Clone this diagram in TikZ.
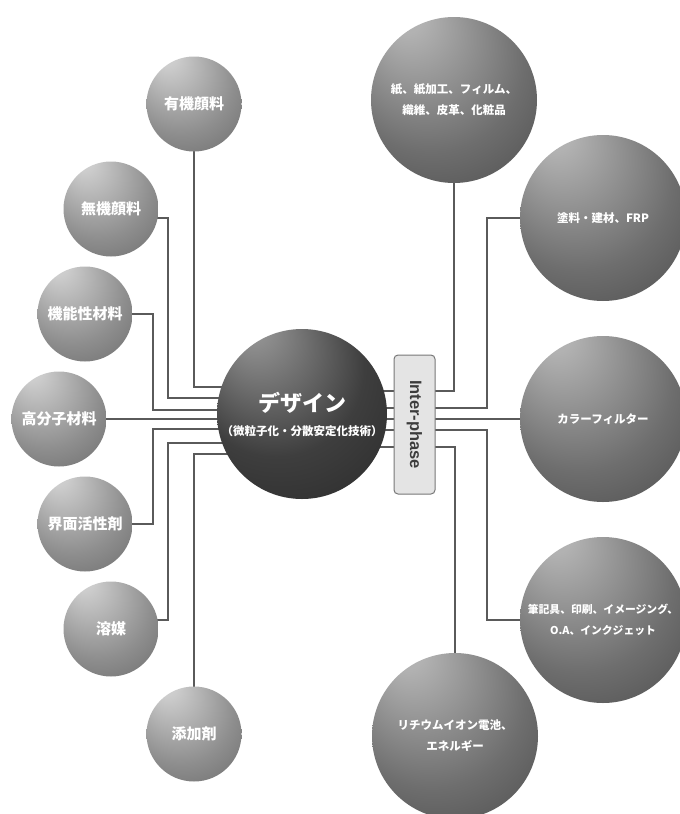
\documentclass[tikz,border=0pt]{standalone}
\usepackage{fontspec}
\newfontfamily\jp{Noto Sans CJK JP}
\newfontfamily\lsans{Liberation Sans}
\usetikzlibrary{calc}
\definecolor{lhi}{RGB}{205,205,205}
\definecolor{lbase}{RGB}{142,142,142}
\definecolor{ldark}{RGB}{100,100,100}
\definecolor{ledge}{RGB}{88,88,88}
\definecolor{rhi}{RGB}{178,178,178}
\definecolor{rbase}{RGB}{110,110,110}
\definecolor{rdark}{RGB}{70,70,70}
\definecolor{redge}{RGB}{60,60,60}
\definecolor{chi}{RGB}{145,145,145}
\definecolor{cbase}{RGB}{62,62,62}
\definecolor{cdark}{RGB}{38,38,38}
\definecolor{cedge}{RGB}{30,30,30}
\definecolor{linec}{RGB}{90,90,90}
\definecolor{boxfill}{RGB}{228,228,228}
\definecolor{boxline}{RGB}{120,120,120}
\definecolor{iptext}{RGB}{60,60,60}
\pgfdeclareradialshading{lshade}{\pgfpoint{-16bp}{28bp}}{color(0bp)=(lhi); color(5bp)=(lhi); color(28bp)=(lbase); color(46bp)=(ldark); color(50bp)=(ledge)}
\pgfdeclareradialshading{rshade}{\pgfpoint{-16bp}{28bp}}{color(0bp)=(rhi); color(5bp)=(rhi); color(28bp)=(rbase); color(46bp)=(rdark); color(50bp)=(redge)}
\pgfdeclareradialshading{cshade}{\pgfpoint{-16bp}{28bp}}{color(0bp)=(chi); color(4bp)=(chi); color(26bp)=(cbase); color(46bp)=(cdark); color(50bp)=(cedge)}
\pgfdeclarelayer{bg}
\pgfsetlayers{bg,main}
\begin{document}
\begin{tikzpicture}[x=1pt,y=-1pt,
  ball/.style={circle, inner sep=0pt, text=white, align=center},
  lball/.style={ball, minimum size=95pt, shading=lshade, font=\jp\bfseries\fontsize{15}{18}\selectfont},
  rball/.style={ball, minimum size=166pt, shading=rshade, font=\jp\bfseries\fontsize{11.5}{21}\selectfont},
  cball/.style={ball, minimum size=170pt, shading=cshade, font=\jp\bfseries\fontsize{22}{27}\selectfont},
  conn/.style={draw=linec, line width=1.2pt},
  ipbox/.style={draw=boxline, line width=1pt, fill=boxfill, rounded corners=4pt, minimum width=41pt, minimum height=139pt, inner sep=0pt, text=iptext, font=\lsans\bfseries\fontsize{16.5}{18}\selectfont}]
\useasboundingbox (0,0) rectangle (680,814);
% left balls
\node[lball] (yuki)   at (194,104) {有機顔料};
\node[lball] (muki)   at (111,209) {無機顔料};
\node[lball] (kino)   at (85,314)  {機能性材料};
\node[lball] (kobun)  at (59,419)  {高分子材料};
\node[lball] (kaimen) at (85,524)  {界面活性剤};
\node[lball] (yobai)  at (111,629) {溶媒};
\node[lball] (tenka)  at (194,734) {添加剤};
% centre
\node[cball] (dz) at (302,414) {デザイン\\[-3pt]{\fontsize{11.5}{13}\selectfont （微粒子化・分散安定化技術）}};
\node[ipbox] (ip) at (414.5,424.5) {\rotatebox{-90}{Inter-phase}};
% right balls
\node[rball] (kami)  at (454,100) {紙、紙加工、フィルム、\\織維、皮革、化粧品};
\node[rball] (toryo) at (603,218) {塗料・建材、FRP};
\node[rball] (cf)    at (603,419) {カラーフィルター};
\node[rball, font=\jp\bfseries\fontsize{10.8}{21}\selectfont] (hikki) at (603,620) {筆記具、印刷、イメージング、\\O.A、インクジェット};
\node[rball] (li)    at (455,736) {リチウムイオン電池、\\エネルギー};
\begin{pgfonlayer}{bg}
\draw[conn] (yuki.center) |- (dz.center |- 0,387);
\draw[conn] (muki.center) ++(0,9) -| (168,398) -- (dz.center |- 0,398);
\draw[conn] (kino.center) -| (153,410) -- (dz.center |- 0,410);
\draw[conn] (kobun.center) -- (dz.center |- 0,419);
\draw[conn] (kaimen.center) -| (153,429) -- (dz.center |- 0,429);
\draw[conn] (yobai.center) ++(0,-9) -| (168,443) -- (dz.center |- 0,443);
\draw[conn] (tenka.center) |- (dz.center |- 0,454);
\draw[conn] (kami.center) |- (dz.center |- 0,391);
\draw[conn] (toryo.center) -| (487,408) -- (dz.center |- 0,408);
\draw[conn] (cf.center) -- (dz.center |- 0,419);
\draw[conn] (hikki.center) -| (487,430) -- (dz.center |- 0,430);
\draw[conn] (li.center) |- (dz.center |- 0,447);
\end{pgfonlayer}
\end{tikzpicture}
\end{document}
